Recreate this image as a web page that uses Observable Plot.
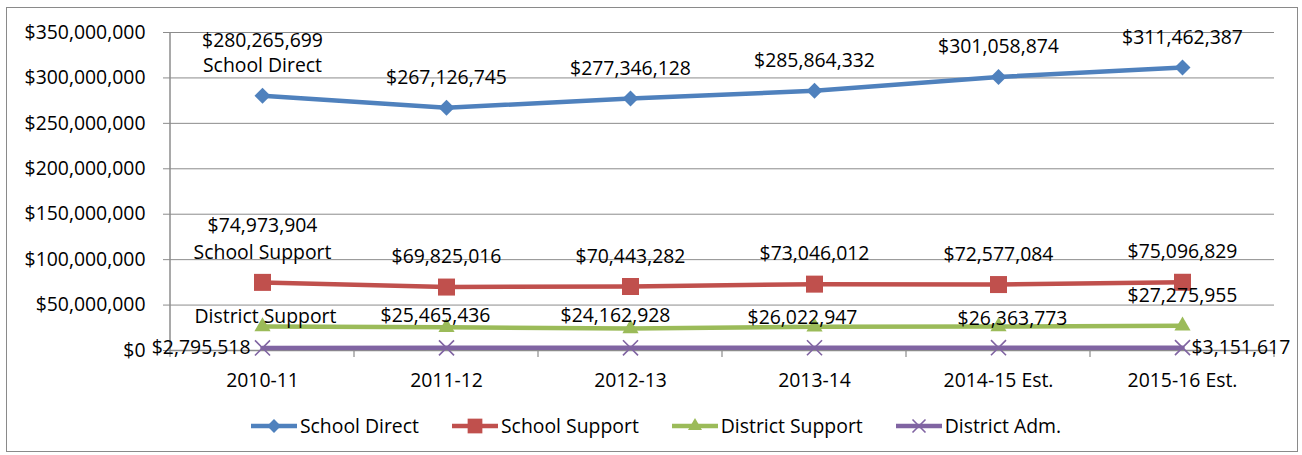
<!DOCTYPE html>
<html><head><meta charset="utf-8">
<script src="https://cdn.jsdelivr.net/npm/d3@7"></script>
<script src="https://cdn.jsdelivr.net/npm/@observablehq/plot@0.6"></script>
<style>
body{margin:0;background:#fff;}
#wrap{position:relative;width:1302px;height:455px;font-family:"Open Sans",sans-serif;color:#000;}
#border{position:absolute;left:6px;top:7px;width:1292px;height:445px;border:1px solid #8a8a8a;box-sizing:border-box;}
#chart{position:absolute;left:0;top:0;}
#legend{position:absolute;left:10px;top:413px;width:1292px;display:flex;justify-content:center;gap:33px;font-size:19.4px;line-height:26px;}
.item{display:flex;align-items:center;gap:3px;}
</style></head>
<body><div id="wrap"><div id="border"></div><div id="chart"></div><div id="legend"></div></div>
<script>
// ---- data ----
const categories = ["2010-11", "2011-12", "2012-13", "2013-14", "2014-15 Est.", "2015-16 Est."];
const schoolDirect = [280265699, 267126745, 277346128, 285864332, 301058874, 311462387];
const schoolSupport = [74973904, 69825016, 70443282, 73046012, 72577084, 75096829];
const districtSupport = [26400000, 25465436, 24162928, 26022947, 26363773, 27275955]; // first value estimated (unlabeled)
const districtAdm = [2795518, 2900000, 2950000, 3000000, 3100000, 3151617]; // middle values estimated (unlabeled)
const seriesNames = ["School Direct", "School Support", "District Support", "District Adm."];
const yTicks = [0, 50e6, 100e6, 150e6, 200e6, 250e6, 300e6, 350e6];

// ---- styles / layout ----
const colors = ["#4F81BD", "#C0504D", "#9BBB59", "#8064A2"];
const symbols = ["diamond2", "square", "triangle", "times"];
const symbolR = [7.2, 9.6, 6.0, 6.9];
const FONT = 19.4;

const allSeries = [schoolDirect, schoolSupport, districtSupport, districtAdm];
const rows = [];
allSeries.forEach((vals, s) => vals.forEach((v, i) => rows.push({series: seriesNames[s], s, cat: categories[i], value: v})));

const fmt = v => "$" + d3.format(",")(v);

// label layout (pixel offsets from point)
const labels = [];
schoolDirect.forEach((v, i) => labels.push({cat: categories[i], value: v, text: fmt(v), dy: i === 0 ? -55 : -30, dx: 0, anchor: "middle"}));
labels.push({cat: categories[0], value: schoolDirect[0], text: "School Direct", dy: -30, dx: 0, anchor: "middle"});
schoolSupport.forEach((v, i) => labels.push({cat: categories[i], value: v, text: fmt(v), dy: i === 0 ? -57 : -30, dx: 0, anchor: "middle"}));
labels.push({cat: categories[0], value: schoolSupport[0], text: "School Support", dy: -30, dx: 0, anchor: "middle"});
const dsDy = [-10, -12, -13, -9, -8, -30];
const dsDx = [3, -11, -15, -12, 14, 0];
districtSupport.forEach((v, i) => labels.push({cat: categories[i], value: v, text: i === 0 ? "District Support" : fmt(v), dy: dsDy[i], dx: dsDx[i], anchor: "middle"}));
labels.push({cat: categories[0], value: districtAdm[0], text: fmt(districtAdm[0]), dy: 0, dx: -12, anchor: "end"});
labels.push({cat: categories[5], value: districtAdm[5], text: fmt(districtAdm[5]), dy: 0, dx: 9, anchor: "start"});

const marks = [
  Plot.gridY(yTicks, {stroke: "#8c8c8c", strokeOpacity: 1, strokeWidth: 1}),
  Plot.axisY(yTicks, {tickSize: 7, tickPadding: 18, tickFormat: fmt, stroke: "#8c8c8c", fill: "#000", fontSize: FONT}),
  Plot.axisX({tickSize: 0, tickPadding: 23, fill: "#000", fontSize: FONT}),
  Plot.ruleY([0], {stroke: "#8c8c8c", strokeWidth: 1.5})
];
allSeries.forEach((vals, s) => {
  const data = rows.filter(r => r.s === s);
  marks.push(Plot.line(data, {x: "cat", y: "value", stroke: colors[s], strokeWidth: 4.5}));
});
allSeries.forEach((vals, s) => {
  const data = rows.filter(r => r.s === s);
  if (symbols[s] === "times") {
    marks.push(Plot.dot(data, {x: "cat", y: "value", symbol: "times", r: symbolR[s], stroke: colors[s], strokeWidth: 1.6}));
  } else {
    marks.push(Plot.dot(data, {x: "cat", y: "value", symbol: symbols[s], r: symbolR[s], fill: colors[s], stroke: "none"}));
  }
});
labels.forEach(l => {
  marks.push(Plot.text([l], {x: "cat", y: "value", text: "text", textAnchor: l.anchor, dx: l.dx, dy: l.dy, fontSize: FONT, fill: "#000"}));
});

const plot = Plot.plot({
  width: 1302,
  height: 400,
  marginLeft: 170,
  marginRight: 28,
  marginTop: 32,
  marginBottom: 50,
  style: {fontFamily: "'Open Sans', sans-serif", fontSize: FONT + "px", background: "transparent", color: "#000"},
  x: {type: "point", domain: categories, padding: 0.5, label: null},
  y: {domain: [0, 350e6], label: null},
  marks
});
document.getElementById("chart").appendChild(plot);

// axis line and boundary ticks derived from the plot's scales
const xs = plot.scale("x"), ys = plot.scale("y");
const y0 = ys.apply(0), yTop = ys.apply(350e6);
const step = xs.apply(categories[1]) - xs.apply(categories[0]);
const svg = d3.select(plot);
const g = svg.append("g").attr("stroke", "#8c8c8c");
g.append("line").attr("x1", xs.range[0]).attr("x2", xs.range[0]).attr("y1", yTop).attr("y2", y0).attr("stroke-width", 1.5);
for (let k = 0; k <= categories.length; k++) {
  const bx = xs.apply(categories[0]) - step / 2 + k * step;
  g.append("line").attr("x1", bx).attr("x2", bx).attr("y1", y0).attr("y2", y0 + 7).attr("stroke-width", 1.2);
}
// keep data marks above the axis line
svg.selectAll("g[aria-label=line], g[aria-label=dot], g[aria-label=text]").each(function() { this.parentNode.appendChild(this); });

// legend
const legend = d3.select("#legend");
const symTypes = [d3.symbolDiamond2, d3.symbolSquare, d3.symbolTriangle, d3.symbolTimes];
seriesNames.forEach((name, s) => {
  const item = legend.append("div").attr("class", "item");
  const sv = item.append("svg").attr("width", 46).attr("height", 22);
  sv.append("line").attr("x1", 0).attr("x2", 46).attr("y1", 11).attr("y2", 11).attr("stroke", colors[s]).attr("stroke-width", 4.5);
  const size = Math.PI * symbolR[s] * symbolR[s] * 0.75;
  const p = sv.append("path").attr("d", d3.symbol(symTypes[s], size)()).attr("transform", "translate(23,11)");
  if (s === 3) p.attr("fill", "none").attr("stroke", colors[s]).attr("stroke-width", 1.6);
  else p.attr("fill", colors[s]);
  item.append("span").text(name);
});
</script>
</body></html>
